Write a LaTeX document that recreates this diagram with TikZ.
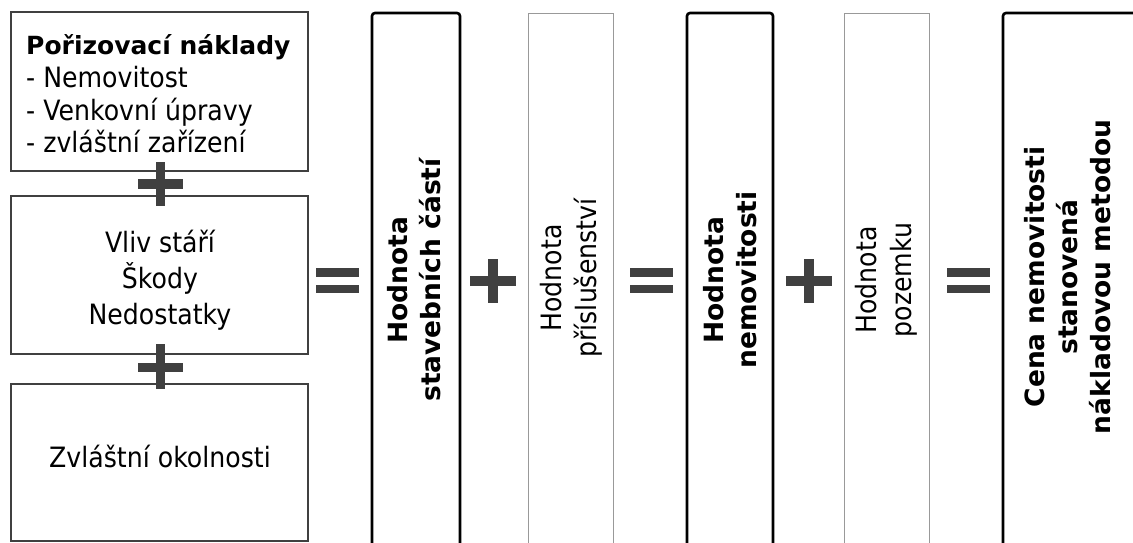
\documentclass[tikz,border=0pt]{standalone}
\usepackage{fontspec}
\setmainfont{DejaVu Sans}
\newfontfamily\regfont[FakeStretch=0.9]{DejaVu Sans}
\newfontfamily\boldfont{DejaVu Sans Bold}
\begin{document}
\begin{tikzpicture}[x=1pt,y=-1pt,
  leftbox/.style={draw=black!75,line width=1.3pt,fill=white},
  thickbox/.style={draw=black,line width=2.6pt,rounded corners=3pt,fill=white},
  thinbox/.style={draw=black!40,line width=1pt,fill=white},
  sym/.style={fill=black!75,draw=none},
  vtext/.style={rotate=90,align=center,inner sep=0pt},
  regtxt/.style={font=\regfont\fontsize{28}{35}\selectfont},
  bldtxt/.style={font=\boldfont\fontsize{26.5}{33}\selectfont},
]
\useasboundingbox (0,0) rectangle (1133,543);
\fill[white] (0,0) rectangle (1133,543);
% left boxes
\draw[leftbox] (11,12) rectangle (308,171);
\draw[leftbox] (11,196) rectangle (308,354);
\draw[leftbox] (11,384) rectangle (308,541);
\node[anchor=west,align=left,inner sep=0pt,font=\regfont\fontsize{28}{32.7}\selectfont] (t1) at (26,94)
  {{\boldfont\fontsize{25}{32.7}\selectfont Pořizovací náklady}\\- Nemovitost\\- Venkovní úpravy\\- zvláštní zařízení};
\node[align=center,inner sep=0pt,font=\regfont\fontsize{28}{36}\selectfont] (t2) at (160,280) {Vliv stáří\\Škody\\Nedostatky};
\node[align=center,inner sep=0pt,font=\regfont\fontsize{28}{36}\selectfont] (t3) at (160,456) {Zvláštní okolnosti};
% plus signs on left column
\fill[sym] (156,162) rectangle (165,206);
\fill[sym] (138,179) rectangle (183,189);
\fill[sym] (156,344) rectangle (165,389);
\fill[sym] (138,363) rectangle (183,372);
% tall boxes
\draw[thickbox] (372,13) rectangle (460,570);
\draw[thinbox] (528,14) rectangle (613,570);
\draw[thickbox] (687,13) rectangle (773,570);
\draw[thinbox] (844,14) rectangle (929,570);
\draw[thickbox] (1003,13) rectangle (1180,570);
\node[vtext,bldtxt] (a) at (414,280) {Hodnota\\stavebních částí};
\node[vtext,regtxt] (b) at (571,278) {Hodnota\\příslušenství};
\node[vtext,bldtxt] (c) at (730,280) {Hodnota\\nemovitosti};
\node[vtext,regtxt] (d) at (886,280) {Hodnota\\pozemku};
\node[vtext,bldtxt] (e) at (1068,277) {Cena nemovitosti\\stanovená\\nákladovou metodou};
% operators
\fill[sym] (316,268) rectangle (359,277);
\fill[sym] (316,285) rectangle (359,293);
\fill[sym] (488,259) rectangle (498,303);
\fill[sym] (470,276) rectangle (516,286);
\fill[sym] (630,268) rectangle (673,277);
\fill[sym] (630,285) rectangle (673,293);
\fill[sym] (804,259) rectangle (814,303);
\fill[sym] (786,276) rectangle (832,286);
\fill[sym] (947,268) rectangle (990,277);
\fill[sym] (947,285) rectangle (990,293);
\end{tikzpicture}
\end{document}
